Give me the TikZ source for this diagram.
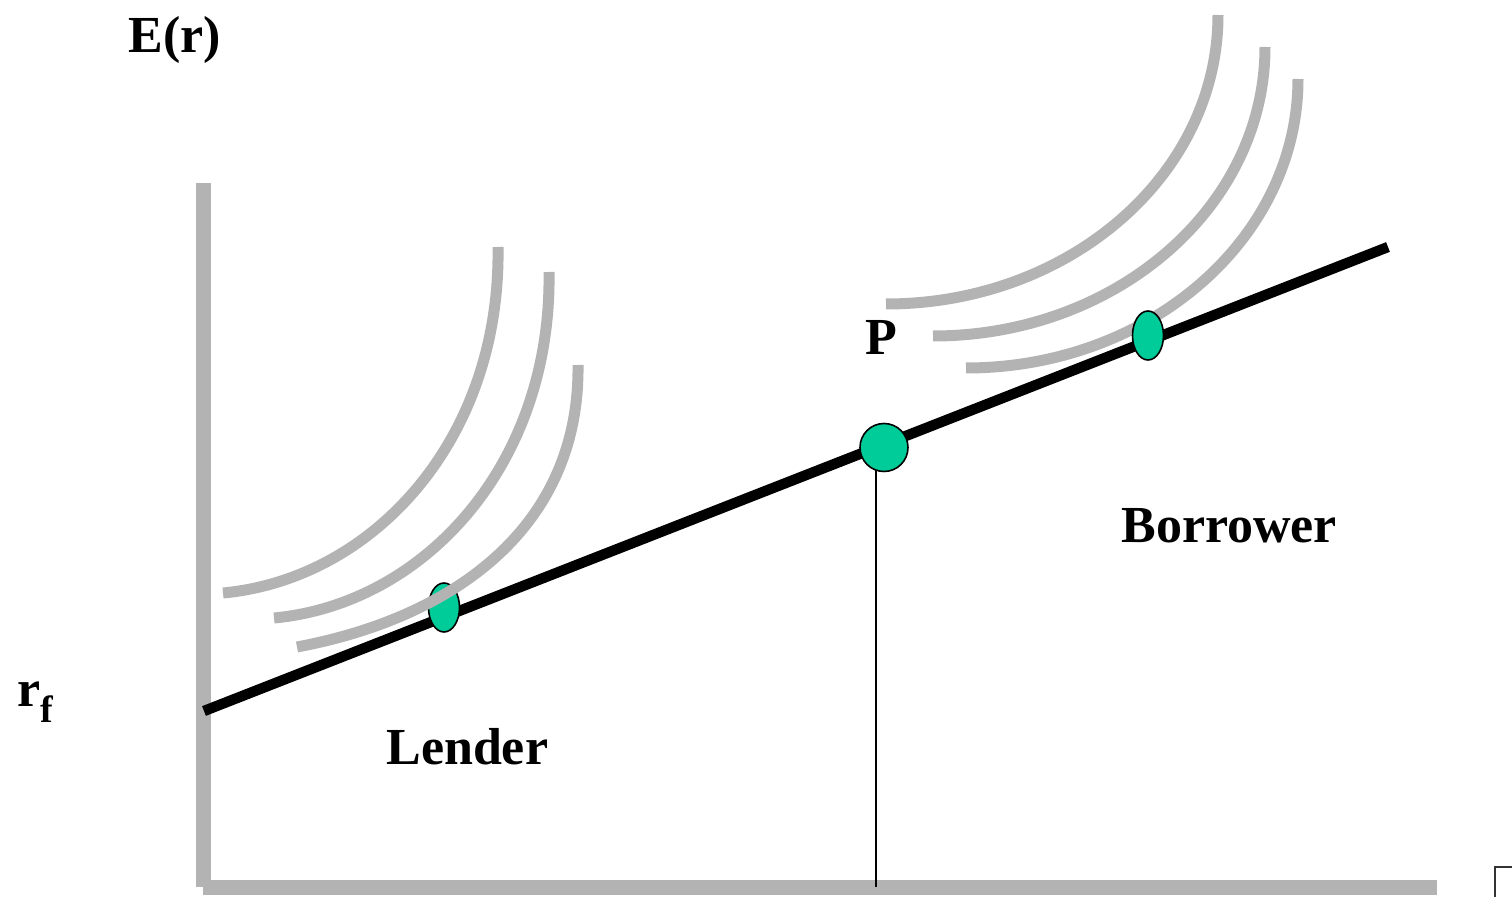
\documentclass[tikz,border=0pt]{standalone}
\usepackage{fontspec}
\setmainfont{Liberation Serif}
\usetikzlibrary{shapes.geometric}
\definecolor{axisgray}{RGB}{179,179,179}
\definecolor{dotgreen}{RGB}{0,204,153}
\begin{document}
\begin{tikzpicture}[x=0.5pt,y=-0.5pt,
  axis/.style={draw=axisgray,line width=7.5pt},
  icurve/.style={draw=axisgray,line width=5.5pt},
  cml/.style={draw=black,line width=5.2pt},
  dot/.style={ellipse,draw=black,line width=0.8pt,fill=dotgreen,inner sep=0pt,minimum width=15.5pt,minimum height=24.5pt},
  pdot/.style={circle,draw=black,line width=0.8pt,fill=dotgreen,inner sep=0pt,minimum size=24pt},
  lbl/.style={anchor=base west,inner sep=0pt,font=\fontsize{26}{31}\selectfont\bfseries}]
\path[use as bounding box] (0,0) rectangle (1512,897);
% coordinates
\coordinate (ytop) at (203.5,183);
\coordinate (ybot) at (203.5,887);
\coordinate (xleft) at (203,887.5);
\coordinate (xright) at (1437,887.5);
\coordinate (rf) at (204,711);
\coordinate (cmlend) at (1388,247);
\coordinate (pbase) at (876,887);
\coordinate (pline) at (876,447);
\coordinate (m1) at (1495,897);
\coordinate (m2) at (1495,867);
\coordinate (m3) at (1512,867);
% axes
\draw[axis] (ytop) -- (ybot);
\draw[axis] (xleft) -- (xright);
% thin vertical line under P
\draw[line width=0.75pt] (pline) -- (pbase);
% capital market line
\draw[cml] (rf) -- (cmlend);
% lender point
\node[dot] (lend) at (444,607.5) {};
% left indifference curves
\draw[icurve] (223,593) .. controls (373,579) and (501,440) .. (498,247);
\draw[icurve] (274,618) .. controls (424,604) and (552,465) .. (549,272);
\draw[icurve] (297,647) .. controls (457,617) and (580,525) .. (578,365);
% right indifference curves
\draw[icurve] (886,304) .. controls (1069,304) and (1218,175) .. (1218,15);
\draw[icurve] (933,336) .. controls (1116,336) and (1265,207) .. (1265,47);
\draw[icurve] (966,368) .. controls (1149,368) and (1298,239) .. (1298,79);
% borrower point and P
\node[dot] (borr) at (1148,335.5) {};
\node[pdot] (P) at (884,447.5) {};
% labels
\node[lbl] (Er) at (128,53) {E(r)};
\node[lbl] (rflab) at (17,707) {r\raisebox{-0.3em}{\fontsize{19}{22}\selectfont f}};
\node[lbl] (Plab) at (865,355) {P};
\node[lbl] (Lender) at (386,765) {Lender};
\node[lbl] (Borrower) at (1121,543) {Borrower};
% small corner mark
\draw[line width=0.6pt,draw=black!80] (m1) -- (m2) -- (m3);
\end{tikzpicture}
\end{document}
